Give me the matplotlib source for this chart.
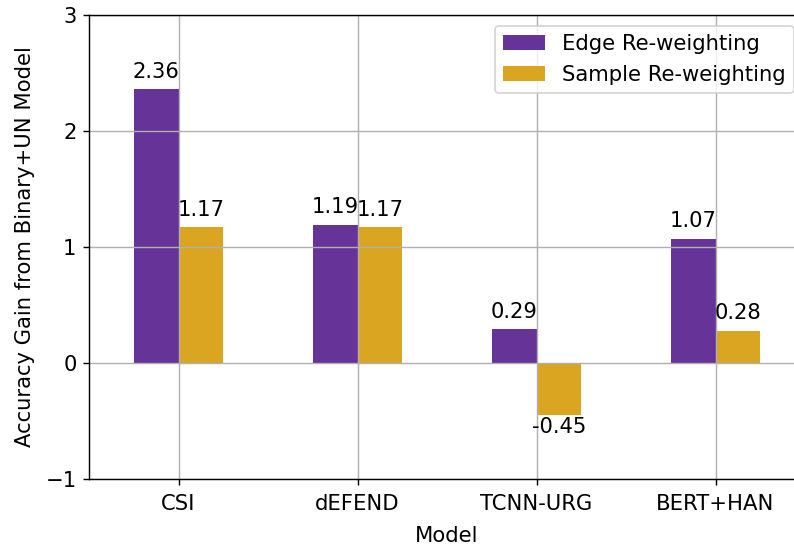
import matplotlib
matplotlib.use("Agg")
import matplotlib.pyplot as plt
import numpy as np

models = ["CSI", "dEFEND", "TCNN-URG", "BERT+HAN"]
edge_gain = [2.36, 1.19, 0.29, 1.07]
sample_gain = [1.17, 1.17, -0.45, 0.28]
series_names = ["Edge Re-weighting", "Sample Re-weighting"]
colors = ["#663399", "#DAA520"]

DPI = 127
fig = plt.figure(figsize=(794 / DPI, 548 / DPI), dpi=DPI)
ax = fig.add_axes([89 / 794, 69 / 548, 716 / 794, 464 / 548])

x = np.arange(len(models))
width = 0.25
for i, (vals, name, color) in enumerate(zip([edge_gain, sample_gain], series_names, colors)):
    bars = ax.bar(x + (i - 0.5) * width, vals, width, color=color, label=name)
    for b, v in zip(bars, vals):
        cx = b.get_x() + b.get_width() / 2
        off = 10 if v >= 0 else -6.5
        ax.annotate(f"{v:.2f}", (cx, v), xytext=(0, off), textcoords="offset points",
                    ha="center", va="center", fontsize=12)

ax.set_xlim(-0.5, len(models) - 0.5)
ax.set_ylim(-1, 3)
ax.set_yticks([-1, 0, 1, 2, 3])
ax.set_xticks(x)
ax.set_xticklabels(models, fontsize=12)
ax.tick_params(axis="x", pad=5)
ax.tick_params(axis="y", labelsize=12)
ax.grid(True)
ax.set_xlabel("Model", fontsize=12, labelpad=7)
ax.set_ylabel("Accuracy Gain from Binary+UN Model", fontsize=12, labelpad=6)
ax.legend(loc="upper right", fontsize=12)

fig.savefig("out.png", dpi=DPI)
